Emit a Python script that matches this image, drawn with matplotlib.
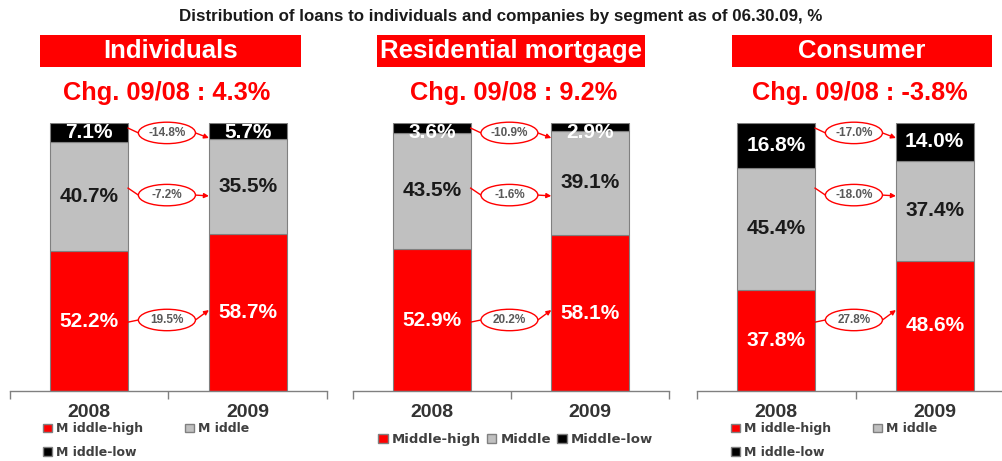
import matplotlib
matplotlib.use("Agg")
import matplotlib.pyplot as plt
from matplotlib.patches import Rectangle, Ellipse, Patch

plt.rcParams['font.family'] = ['Liberation Sans', 'DejaVu Sans']

# ---------------- data ----------------
years = ['2008', '2009']
segments = ['Individuals', 'Residential mortgage', 'Consumer']
total_change = [4.3, 9.2, -3.8]

individuals_high = [52.2, 58.7]
individuals_mid = [40.7, 35.5]
individuals_low = [7.1, 5.7]

mortgage_high = [52.9, 58.1]
mortgage_mid = [43.5, 39.1]
mortgage_low = [3.6, 2.9]

consumer_high = [37.8, 48.6]
consumer_mid = [45.4, 37.4]
consumer_low = [16.8, 14.0]

# changes 09/08 per class: [middle-high, middle, middle-low]
individuals_chg = [19.5, -7.2, -14.8]
mortgage_chg = [20.2, -1.6, -10.9]
consumer_chg = [27.8, -18.0, -17.0]

legend_labels_spaced = ['M iddle-high', 'M iddle', 'M iddle-low']
legend_labels = ['Middle-high', 'Middle', 'Middle-low']

# ---------------- style ----------------
W, H = 1002, 461
RED = '#FF0000'
GRAY = '#C0C0C0'
BLACK = '#000000'

fig = plt.figure(figsize=(W / 100, H / 100), dpi=100)


def fx(x):
    return x / W


def fy(y):
    return 1 - y / H


fig.text(fx(501), fy(16), 'Distribution of loans to individuals and companies by segment as of 06.30.09, %',
         ha='center', va='center', fontsize=12.2, fontweight='bold', color='#1a1a1a')

# layout per panel: axes left/right px, title box px, legend anchor, legend mode
panels = [
    dict(name=segments[0], high=individuals_high, mid=individuals_mid, low=individuals_low,
         chg=individuals_chg, tot=total_change[0], L=10, R=327, box=(40, 301), chgx=167,
         leg=(42, 421), labels=legend_labels_spaced, ncol=2, fs=9),
    dict(name=segments[1], high=mortgage_high, mid=mortgage_mid, low=mortgage_low,
         chg=mortgage_chg, tot=total_change[1], L=353, R=669, box=(377, 645), chgx=514,
         leg=(377, 432), labels=legend_labels, ncol=3, fs=9.5),
    dict(name=segments[2], high=consumer_high, mid=consumer_mid, low=consumer_low,
         chg=consumer_chg, tot=total_change[2], L=697, R=1014, box=(732, 992), chgx=860,
         leg=(730, 421), labels=legend_labels_spaced, ncol=2, fs=9),
]

AX_TOP, AX_BOT = 123, 391
# arrow y positions (start at 2008 bar, ellipse centre, end at 2009 bar) for [high, mid, low]
ARROW_Y = [(25.7, 26.5, 30.2), (75.7, 73.1, 72.8), (98.1, 96.3, 94.4)]
BW = 0.49

for p in panels:
    # title box
    x0, x1 = p['box']
    fig.patches.append(Rectangle((fx(x0), fy(67)), (x1 - x0) / W, 32 / H, transform=fig.transFigure,
                                 facecolor=RED, edgecolor='none', zorder=0))
    fig.text(fx((x0 + x1) / 2), fy(51), p['name'], ha='center', va='center', color='white',
             fontsize=18.5, fontweight='bold')
    fig.text(fx(p['chgx']), fy(93), f"Chg. 09/08 : {p['tot']:.1f}%", ha='center', va='center',
             color=RED, fontsize=18.3, fontweight='bold')

    ax = fig.add_axes([fx(p['L']), fy(AX_BOT), (p['R'] - p['L']) / W, (AX_BOT - AX_TOP) / H])
    x = [0, 1]
    high, mid, low = p['high'], p['mid'], p['low']
    bot_low = [a + b for a, b in zip(high, mid)]
    ax.bar(x, high, width=BW, color=RED, edgecolor='#808080', linewidth=0.8, zorder=2)
    ax.bar(x, mid, width=BW, bottom=high, color=GRAY, edgecolor='#808080', linewidth=0.8, zorder=2)
    ax.bar(x, low, width=BW, bottom=bot_low, color=BLACK, edgecolor='#808080', linewidth=0.8, zorder=2)

    for i in x:
        ax.text(i, high[i] / 2, f'{high[i]:.1f}%', ha='center', va='center', color='white',
                fontsize=15, fontweight='bold', zorder=4)
        ax.text(i, high[i] + mid[i] / 2, f'{mid[i]:.1f}%', ha='center', va='center', color='#1a1a1a',
                fontsize=15, fontweight='bold', zorder=4)
        yl = min(bot_low[i] + low[i] / 2, 96.3)
        ax.text(i, yl, f'{low[i]:.1f}%', ha='center', va='center', color='white',
                fontsize=15, fontweight='bold', zorder=4, clip_on=False)

    # change arrows with ellipses
    ex, ew, eh = 0.49, 0.36, 8.0
    for (ys, yc, ye), c in zip(ARROW_Y, p['chg']):
        ax.plot([BW / 2, ex - ew / 2], [ys, yc], color=RED, lw=1, zorder=3, clip_on=False)
        ax.annotate('', xy=(1 - BW / 2, ye), xytext=(ex + ew / 2, yc),
                    arrowprops=dict(arrowstyle='-|>', color=RED, lw=1, mutation_scale=7,
                                    shrinkA=0, shrinkB=0), zorder=3, annotation_clip=False)
        ax.add_patch(Ellipse((ex, yc), ew, eh, facecolor='white', edgecolor=RED, lw=1, zorder=4,
                             clip_on=False))
        ax.text(ex, yc, f'{c:.1f}%', ha='center', va='center', fontsize=8.5, fontweight='bold',
                color='#595959', zorder=5, clip_on=False)

    ax.set_xlim(-0.5, 1.5)
    ax.set_ylim(0, 100)
    for s in ['top', 'right', 'left']:
        ax.spines[s].set_visible(False)
    ax.spines['bottom'].set_color('#808080')
    ax.spines['bottom'].set_linewidth(1)
    ax.set_yticks([])
    ax.set_xticks([-0.5, 0.5, 1.5])
    ax.set_xticklabels([])
    ax.tick_params(axis='x', direction='out', length=6, color='#808080', width=1)
    ax.patch.set_alpha(0)
    for i, yr in enumerate(years):
        ax.text(i, -8.0, yr, ha='center', va='center', fontsize=14, fontweight='bold', color='#333333',
                clip_on=False)

    handles = [Patch(facecolor=RED, edgecolor='#808080'), Patch(facecolor=GRAY, edgecolor='#808080'),
               Patch(facecolor=BLACK, edgecolor='#808080')]
    labs = p['labels']
    if p['ncol'] == 2:
        hh = [handles[0], handles[2], handles[1]]
        ll = [labs[0], labs[2], labs[1]]
    else:
        hh, ll = handles, labs
    leg = fig.legend(hh, ll, loc='upper left', bbox_to_anchor=(fx(p['leg'][0]), fy(p['leg'][1])),
                     ncol=p['ncol'], frameon=True, fancybox=False, borderpad=0.1,
                     handlelength=0.7, handleheight=0.7, handletextpad=0.3,
                     columnspacing=3.4 if p['ncol'] == 2 else 0.5, labelspacing=0.85,
                     prop=dict(family='DejaVu Sans', weight='bold', size=p['fs']), borderaxespad=0)
    leg.get_frame().set_facecolor('white')
    leg.get_frame().set_edgecolor('none')
    for t in leg.get_texts():
        t.set_color('#404040')

fig.savefig('out.png', dpi=100)
